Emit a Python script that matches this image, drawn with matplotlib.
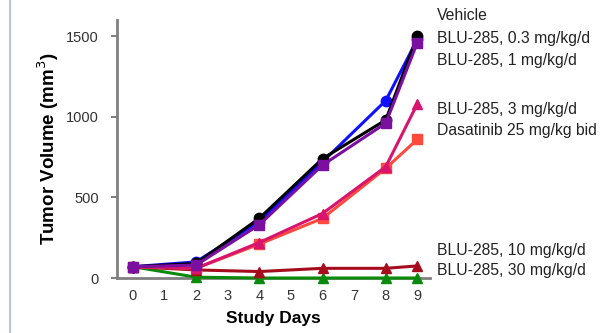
import matplotlib
matplotlib.use("Agg")
import matplotlib.pyplot as plt
from matplotlib.lines import Line2D

plt.rcParams["font.family"] = ["Liberation Sans", "DejaVu Sans"]

days = [0, 2, 4, 6, 8, 9]
vehicle = [70, 90, 370, 740, 980, 1500]
blu_03 = [70, 100, 350, 720, 1100, 1480]
blu_1 = [70, 80, 330, 700, 960, 1460]
blu_3 = [70, 60, 220, 400, 690, 1080]
dasatinib = [70, 60, 210, 370, 680, 860]
blu_10 = [70, 50, 40, 60, 60, 75]
blu_30 = [70, 5, 0, 0, 0, 0]

labels = ["Vehicle", "BLU-285, 0.3 mg/kg/d", "BLU-285, 1 mg/kg/d",
          "BLU-285, 3 mg/kg/d", "Dasatinib 25 mg/kg bid",
          "BLU-285, 10 mg/kg/d", "BLU-285, 30 mg/kg/d"]
label_y = [16, 38, 60, 109, 131, 251, 271]  # pixel rows from top

x_ticks = list(range(10))
y_ticks = [0, 500, 1000, 1500]

W, H = 609, 333
fig = plt.figure(figsize=(W / 100, H / 100), dpi=100)
ax = fig.add_axes([117 / W, 1 - 278 / H, (430 - 117) / W, (278 - 20) / H])

series = [
    (blu_30, "#0a8a0a", "^"),
    (blu_10, "#a50d1e", "^"),
    (dasatinib, "#ff4a3d", "s"),
    (blu_3, "#d8146e", "^"),
    (blu_03, "#1010ff", "o"),
    (vehicle, "#000000", "o"),
    (blu_1, "#7a0fa0", "s"),
]
for vals, col, mk in series:
    ax.plot(days, vals, color=col, marker=mk, lw=2.2, ms=7.5,
            clip_on=False, zorder=3)

ax.set_xlim(-0.5, 9.4)
ax.set_ylim(0, 1600)
ax.set_xticks(x_ticks)
ax.set_yticks(y_ticks)
for s in ["top", "right"]:
    ax.spines[s].set_visible(False)
for s in ["left", "bottom"]:
    ax.spines[s].set_color("#808080")
    ax.spines[s].set_linewidth(2)
ax.tick_params(axis="x", length=0, pad=8, labelsize=10.5, labelcolor="#333333")
ax.tick_params(axis="y", length=4, width=1.5, color="#808080", pad=9,
               labelsize=10.5, labelcolor="#333333")

ax.set_xlabel("Study Days", fontsize=12.5, fontweight="bold", labelpad=6)
ax.set_ylabel("Tumor Volume (mm$^3$)", fontsize=13.5, fontweight="bold",
              labelpad=4)

for lab, py in zip(labels, label_y):
    fig.text(437 / W, 1 - py / H, lab, fontsize=11.3, color="#222222",
             va="center", ha="left")

fig.add_artist(Line2D([10 / W, 10 / W], [0, 1], color="#b7c6dc", lw=1.5))

fig.savefig("out.png", dpi=100)
